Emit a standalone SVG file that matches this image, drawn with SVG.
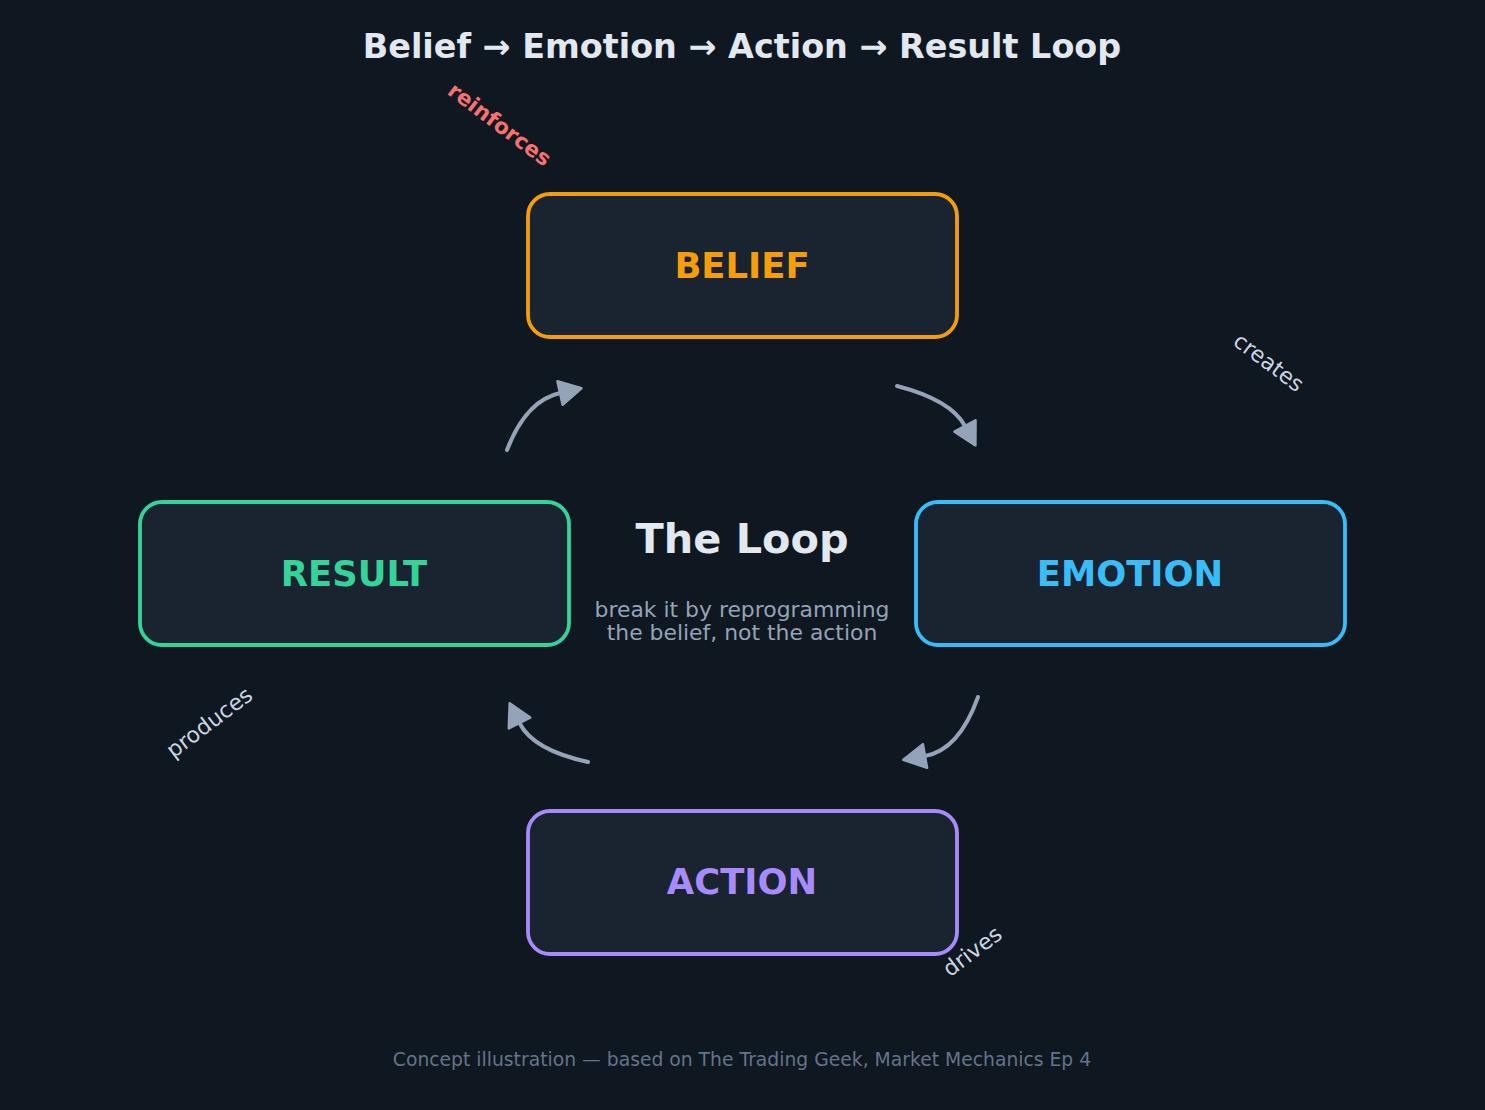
<svg xmlns="http://www.w3.org/2000/svg" width="1485" height="1110" viewBox="0 0 1485 1110">
<style>
text{font-family:"DejaVu Sans","Liberation Sans",sans-serif}
.box{fill:#1a2330;stroke-width:3.8}
.lbl{font-weight:bold;font-size:35.4px;text-anchor:middle}
.edge{fill:none;stroke:#94a3b8;stroke-width:4;stroke-linecap:round}
.elbl{font-size:22px;fill:#cbd5e1;text-anchor:middle}
</style>
<defs>
<marker id="ah" markerUnits="userSpaceOnUse" markerWidth="40" markerHeight="40" refX="0" refY="0" orient="auto" viewBox="-5 -20 40 40" overflow="visible">
<path d="M0,-12 L22,0 L0,12 z" fill="#94a3b8" stroke="#94a3b8" stroke-width="2.5" stroke-linejoin="round"/>
</marker>
</defs>
<rect width="1485" height="1110" fill="#0f1720"/>
<text x="742" y="58" font-size="33.4" font-weight="bold" fill="#e2e8f0" text-anchor="middle">Belief → Emotion → Action → Result Loop</text>
<g id="connectors">
<path class="edge" d="M897,386 Q951,400 965,426" marker-end="url(#ah)"/>
<path class="edge" d="M978,697 Q959,750 925,756" marker-end="url(#ah)"/>
<path class="edge" d="M588,762 Q533,750 519.5,723" marker-end="url(#ah)"/>
<path class="edge" d="M507,450 Q526,400.6 560,393" marker-end="url(#ah)"/>
</g>
<g id="belief">
<rect class="box" x="528" y="194" width="429" height="143" rx="22" stroke="#f59e0b"/>
<text class="lbl" x="742" y="278" fill="#f59e0b">BELIEF</text>
</g>
<g id="emotion">
<rect class="box" x="916" y="502" width="429" height="143" rx="22" stroke="#38bdf8"/>
<text class="lbl" x="1130" y="586" fill="#38bdf8">EMOTION</text>
</g>
<g id="result">
<rect class="box" x="140" y="502" width="429" height="143" rx="22" stroke="#34d399"/>
<text class="lbl" x="354" y="586" fill="#34d399">RESULT</text>
</g>
<g id="action">
<rect class="box" x="528" y="811" width="429" height="143" rx="22" stroke="#a78bfa"/>
<text class="lbl" x="742" y="894" fill="#a78bfa">ACTION</text>
</g>
<g id="labels">
<text transform="translate(500,124) rotate(37)" y="8" font-size="21.5" font-weight="bold" fill="#f87171" text-anchor="middle">reinforces</text>
<text class="elbl" transform="translate(1269,362) rotate(37)" y="8">creates</text>
<text class="elbl" transform="translate(972,951) rotate(-37)" y="8">drives</text>
<text class="elbl" transform="translate(209,722) rotate(-37)" y="8">produces</text>
</g>
<g id="center">
<text x="742" y="553" font-size="41.4" font-weight="bold" fill="#e2e8f0" text-anchor="middle">The Loop</text>
<text x="742" y="617" font-size="21.9" fill="#94a3b8" text-anchor="middle">break it by reprogramming</text>
<text x="742" y="640" font-size="21.9" fill="#94a3b8" text-anchor="middle">the belief, not the action</text>
</g>
<text x="742" y="1066" font-size="18.75" fill="#64748b" text-anchor="middle">Concept illustration — based on The Trading Geek, Market Mechanics Ep 4</text>
</svg>
